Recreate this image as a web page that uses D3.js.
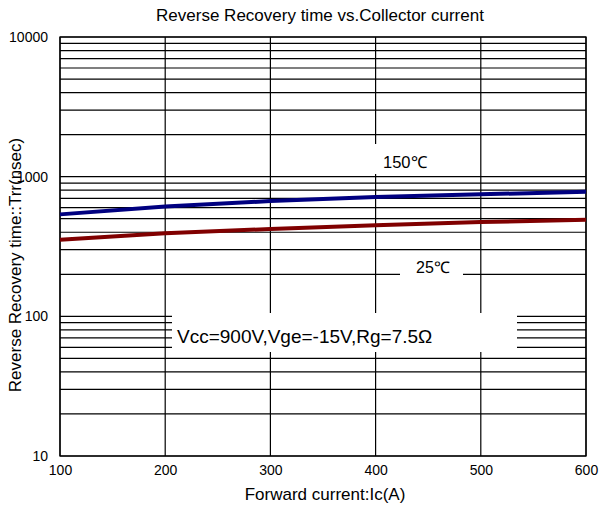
<!DOCTYPE html>
<html><head><meta charset="utf-8">
<script src="https://cdn.jsdelivr.net/npm/d3@7"></script>
<style>body{margin:0;background:#fff;} svg{display:block;} text{font-family:"Liberation Sans",Arial,sans-serif;fill:#000;}</style>
</head><body>
<script>
const currents = [100, 200, 300, 400, 500, 600];
const trr150 = [537, 612, 669, 715, 747, 781];
const trr25 = [354, 393, 422, 448, 473, 492];
const xTicks = [100, 200, 300, 400, 500, 600];
const yTicks = [10, 100, 1000, 10000];
const series = [
  {name: "150℃", values: trr150, color: "#000080"},
  {name: "25℃", values: trr25, color: "#800000"}
];

const W = 602, H = 508;
const m = {left: 60, right: 16, top: 37, bottom: 52};
const svg = d3.select("body").append("svg").attr("width", W).attr("height", H);
const x = d3.scaleLinear().domain([100, 600]).range([m.left, W - m.right]);
const y = d3.scaleLog().domain([10, 10000]).range([H - m.bottom, m.top]);

const gridY = [];
for (let d = 10; d < 10000; d *= 10) for (let k = 1; k < 10; k++) gridY.push(d * k);
gridY.push(10000);

const g = svg.append("g");
g.selectAll("line.hg").data(gridY).join("line")
  .attr("x1", x(100)).attr("x2", x(600))
  .attr("y1", d => y(d)).attr("y2", d => y(d))
  .attr("stroke", "#000").attr("stroke-width", 1.2);
g.selectAll("line.vg").data(xTicks).join("line")
  .attr("x1", d => x(d)).attr("x2", d => x(d))
  .attr("y1", y(10)).attr("y2", y(10000))
  .attr("stroke", "#000").attr("stroke-width", 1.2);

const boxes = [
  {x0: 365, x1: 440, y0: 144, y1: 174},
  {x0: 400, x1: 463, y0: 259, y1: 290},
  {x0: 172, x1: 517, y0: 313, y1: 352}
];
g.selectAll("rect.box").data(boxes).join("rect")
  .attr("x", d => d.x0).attr("y", d => d.y0)
  .attr("width", d => d.x1 - d.x0).attr("height", d => d.y1 - d.y0)
  .attr("fill", "#fff");

g.append("rect").attr("x", x(100)).attr("y", y(10000))
  .attr("width", x(600) - x(100)).attr("height", y(10) - y(10000))
  .attr("fill", "none").attr("stroke", "#000").attr("stroke-width", 1.3);

const line = d3.line().x(d => x(d[0])).y(d => y(d[1]));
g.selectAll("path.s").data(series).join("path")
  .attr("d", s => line(currents.map((c, i) => [c, s.values[i]])))
  .attr("fill", "none").attr("stroke", s => s.color).attr("stroke-width", 4);

const xAxis = svg.append("g").attr("transform", `translate(0,${y(10)})`)
  .call(d3.axisBottom(x).tickValues(xTicks).tickSize(0).tickPadding(9).tickFormat(d3.format("d")));
xAxis.select(".domain").remove();
xAxis.selectAll("text").attr("font-size", 14).style("font-family", "Liberation Sans, Arial, sans-serif").attr("fill", "#000");

const yAxis = svg.append("g").attr("transform", `translate(${x(100)},0)`)
  .call(d3.axisLeft(y).tickValues(yTicks).tickSize(0).tickPadding(12).tickFormat(d3.format("d")));
yAxis.select(".domain").remove();
yAxis.selectAll("text").attr("font-size", 14).style("font-family", "Liberation Sans, Arial, sans-serif").attr("fill", "#000");

svg.append("text").attr("x", 320).attr("y", 21).attr("text-anchor", "middle")
  .attr("font-size", 17).text("Reverse Recovery time vs.Collector current");
svg.append("text").attr("x", 325).attr("y", 500).attr("text-anchor", "middle")
  .attr("font-size", 17).text("Forward current:Ic(A)");
svg.append("text").attr("transform", "translate(21,265) rotate(-90)").attr("text-anchor", "middle")
  .attr("font-size", 17).text("Reverse Recovery time::Trr(nsec)");

svg.append("text").attr("x", 383).attr("y", 168).attr("font-size", 16.5).text(series[0].name);
svg.append("text").attr("x", 416).attr("y", 273).attr("font-size", 16).text(series[1].name);
svg.append("text").attr("x", 177).attr("y", 343).attr("font-size", 19).text("Vcc=900V,Vge=-15V,Rg=7.5Ω");
</script>
</body></html>
